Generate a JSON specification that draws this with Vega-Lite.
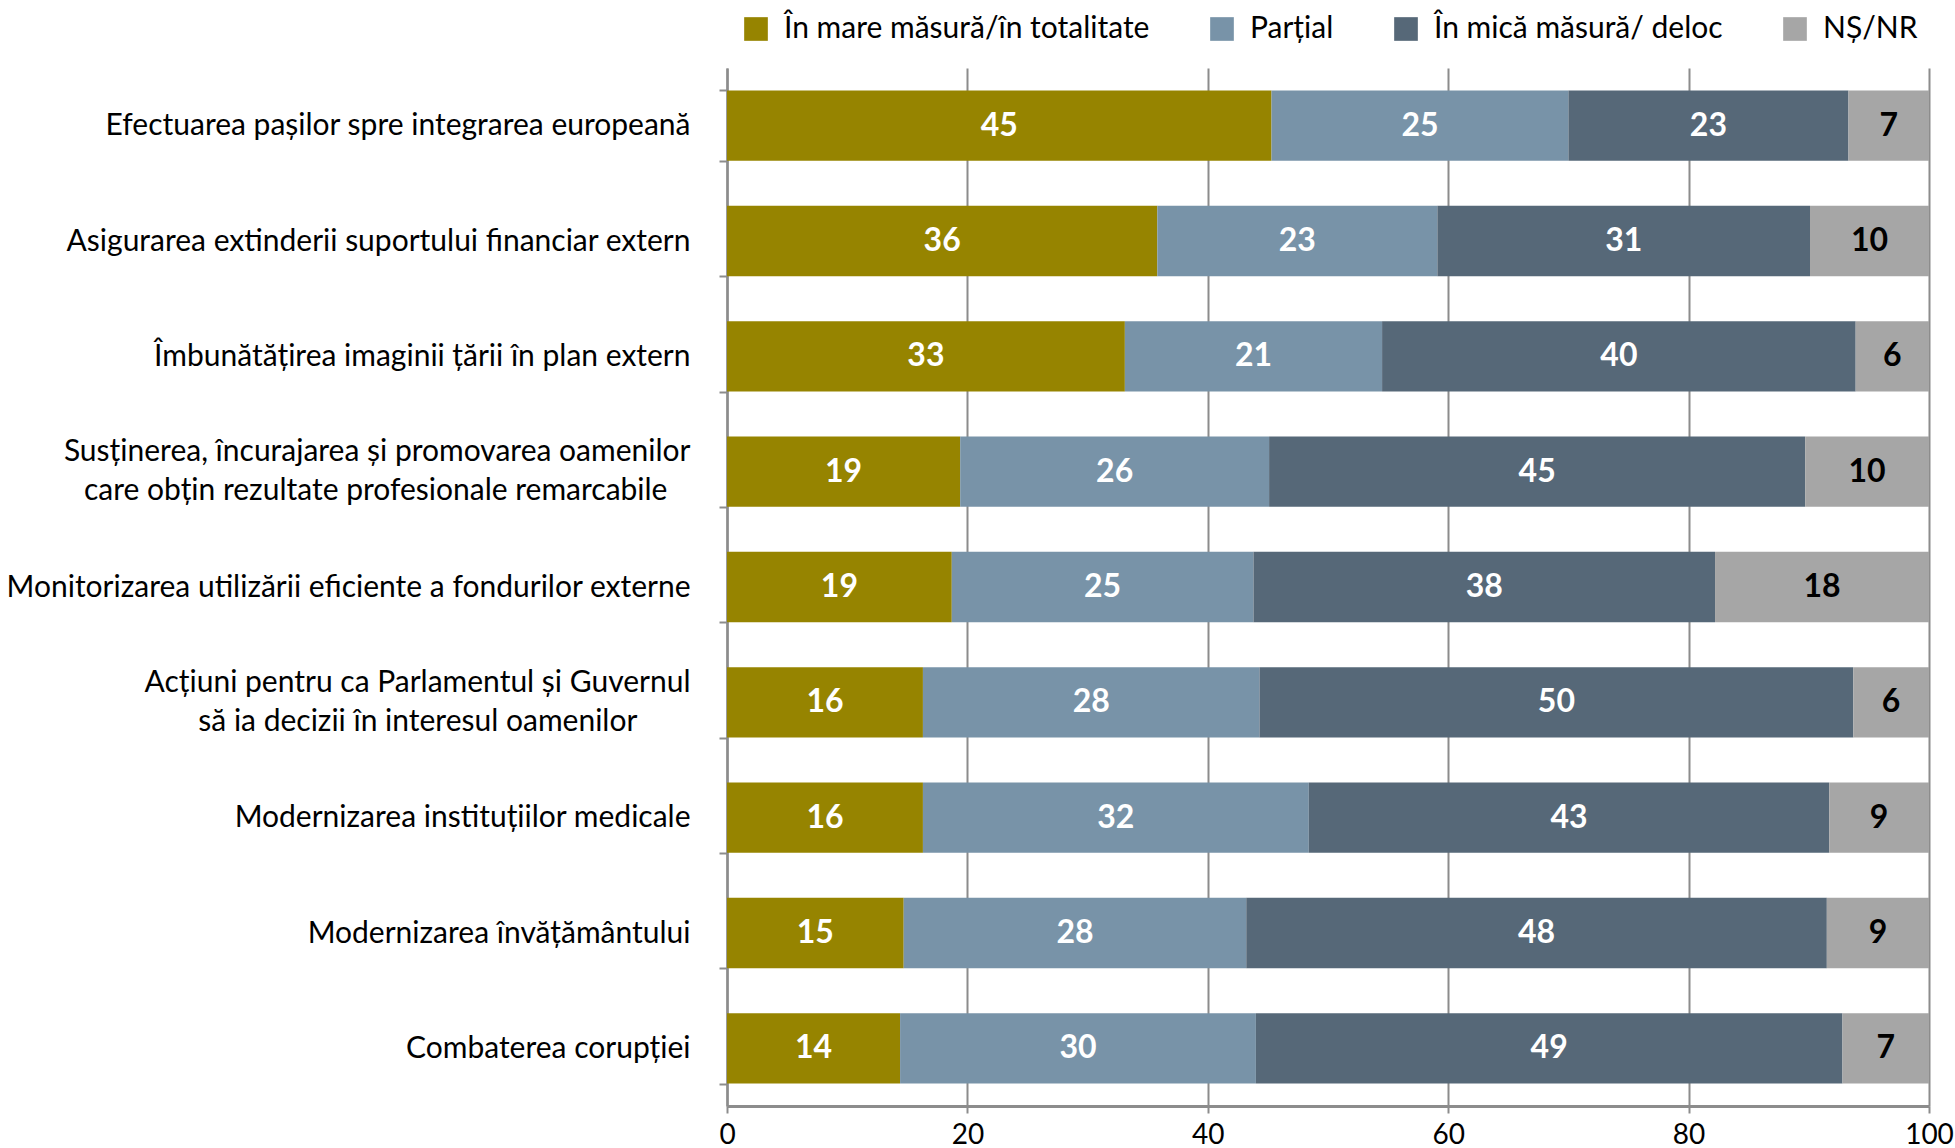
{
  "$schema": "https://vega.github.io/schema/vega-lite/v6.json",
  "width": 1202,
  "height": 1038,
  "autosize": {"type": "none"},
  "padding": {"left": 727, "top": 68, "right": 26, "bottom": 42},
  "background": "white",
  "config": {"view": {"stroke": null}, "font": "Lato"},
  "data": {
    "values": [
      {"cat": "Efectuarea pașilor spre integrarea europeană", "series": "În mare măsură/în totalitate", "value": 45.3, "lab": 45},
      {"cat": "Efectuarea pașilor spre integrarea europeană", "series": "Parțial", "value": 24.7, "lab": 25},
      {"cat": "Efectuarea pașilor spre integrarea europeană", "series": "În mică măsură/ deloc", "value": 23.3, "lab": 23},
      {"cat": "Efectuarea pașilor spre integrarea europeană", "series": "NȘ/NR", "value": 6.7, "lab": 7},
      {"cat": "Asigurarea extinderii suportului financiar extern", "series": "În mare măsură/în totalitate", "value": 35.8, "lab": 36},
      {"cat": "Asigurarea extinderii suportului financiar extern", "series": "Parțial", "value": 23.3, "lab": 23},
      {"cat": "Asigurarea extinderii suportului financiar extern", "series": "În mică măsură/ deloc", "value": 31.0, "lab": 31},
      {"cat": "Asigurarea extinderii suportului financiar extern", "series": "NȘ/NR", "value": 9.9, "lab": 10},
      {"cat": "Îmbunătățirea imaginii țării în plan extern", "series": "În mare măsură/în totalitate", "value": 33.1, "lab": 33},
      {"cat": "Îmbunătățirea imaginii țării în plan extern", "series": "Parțial", "value": 21.4, "lab": 21},
      {"cat": "Îmbunătățirea imaginii țării în plan extern", "series": "În mică măsură/ deloc", "value": 39.4, "lab": 40},
      {"cat": "Îmbunătățirea imaginii țării în plan extern", "series": "NȘ/NR", "value": 6.1, "lab": 6},
      {"cat": "Susținerea, încurajarea și promovarea oamenilor|care obțin rezultate profesionale remarcabile", "series": "În mare măsură/în totalitate", "value": 19.4, "lab": 19},
      {"cat": "Susținerea, încurajarea și promovarea oamenilor|care obțin rezultate profesionale remarcabile", "series": "Parțial", "value": 25.7, "lab": 26},
      {"cat": "Susținerea, încurajarea și promovarea oamenilor|care obțin rezultate profesionale remarcabile", "series": "În mică măsură/ deloc", "value": 44.6, "lab": 45},
      {"cat": "Susținerea, încurajarea și promovarea oamenilor|care obțin rezultate profesionale remarcabile", "series": "NȘ/NR", "value": 10.3, "lab": 10},
      {"cat": "Monitorizarea utilizării eficiente a fondurilor externe", "series": "În mare măsură/în totalitate", "value": 18.7, "lab": 19},
      {"cat": "Monitorizarea utilizării eficiente a fondurilor externe", "series": "Parțial", "value": 25.1, "lab": 25},
      {"cat": "Monitorizarea utilizării eficiente a fondurilor externe", "series": "În mică măsură/ deloc", "value": 38.4, "lab": 38},
      {"cat": "Monitorizarea utilizării eficiente a fondurilor externe", "series": "NȘ/NR", "value": 17.8, "lab": 18},
      {"cat": "Acțiuni pentru ca Parlamentul și Guvernul|să ia decizii în interesul oamenilor", "series": "În mare măsură/în totalitate", "value": 16.3, "lab": 16},
      {"cat": "Acțiuni pentru ca Parlamentul și Guvernul|să ia decizii în interesul oamenilor", "series": "Parțial", "value": 28.0, "lab": 28},
      {"cat": "Acțiuni pentru ca Parlamentul și Guvernul|să ia decizii în interesul oamenilor", "series": "În mică măsură/ deloc", "value": 49.4, "lab": 50},
      {"cat": "Acțiuni pentru ca Parlamentul și Guvernul|să ia decizii în interesul oamenilor", "series": "NȘ/NR", "value": 6.3, "lab": 6},
      {"cat": "Modernizarea instituțiilor medicale", "series": "În mare măsură/în totalitate", "value": 16.3, "lab": 16},
      {"cat": "Modernizarea instituțiilor medicale", "series": "Parțial", "value": 32.1, "lab": 32},
      {"cat": "Modernizarea instituțiilor medicale", "series": "În mică măsură/ deloc", "value": 43.3, "lab": 43},
      {"cat": "Modernizarea instituțiilor medicale", "series": "NȘ/NR", "value": 8.3, "lab": 9},
      {"cat": "Modernizarea învățământului", "series": "În mare măsură/în totalitate", "value": 14.7, "lab": 15},
      {"cat": "Modernizarea învățământului", "series": "Parțial", "value": 28.5, "lab": 28},
      {"cat": "Modernizarea învățământului", "series": "În mică măsură/ deloc", "value": 48.3, "lab": 48},
      {"cat": "Modernizarea învățământului", "series": "NȘ/NR", "value": 8.5, "lab": 9},
      {"cat": "Combaterea corupției", "series": "În mare măsură/în totalitate", "value": 14.4, "lab": 14},
      {"cat": "Combaterea corupției", "series": "Parțial", "value": 29.6, "lab": 30},
      {"cat": "Combaterea corupției", "series": "În mică măsură/ deloc", "value": 48.8, "lab": 49},
      {"cat": "Combaterea corupției", "series": "NȘ/NR", "value": 7.2, "lab": 7}
    ]
  },
  "transform": [
    {"calculate": "indexof(['În mare măsură/în totalitate','Parțial','În mică măsură/ deloc','NȘ/NR'], datum.series)", "as": "ord"},
    {"stack": "value", "groupby": ["cat"], "sort": [{"field": "ord", "order": "ascending"}], "as": ["v0", "v1"]},
    {"calculate": "(datum.v0 + datum.v1) / 2", "as": "mid"}
  ],
  "encoding": {
    "y": {
      "field": "cat",
      "type": "nominal",
      "sort": null,
      "scale": {"paddingInner": 0.39, "paddingOuter": 0.195},
      "axis": {
        "title": null,
        "labelExpr": "test(/[|]/, datum.label + '') ? [split(datum.label, '|')[0], split(datum.label, '|')[1] + (test(/Sus/, datum.label + '') ? '\u00a0\u00a0\u00a0\u200b' : '\u00a0\u00a0\u00a0\u00a0\u00a0\u00a0\u00a0\u200b')] : datum.label",
        "labelFont": "Lato",
        "labelFontSize": 30,
        "labelColor": "#000000",
        "labelLimit": 900,
        "labelPadding": 29,
        "labelBaseline": {"condition": {"test": "test(/[|]/, datum.value + '')", "value": "line-bottom"}, "value": "middle"},
        "labelLineHeight": 39,
        "domainColor": "#8c8c8c",
        "domainWidth": 2.5,
        "ticks": true,
        "tickBand": "extent",
        "tickSize": 8,
        "tickColor": "#8c8c8c",
        "tickWidth": 2,
        "grid": false
      }
    }
  },
  "layer": [
    {
      "mark": {"type": "bar"},
      "encoding": {
        "x": {
          "field": "v0",
          "type": "quantitative",
          "scale": {"domain": [0, 100], "nice": false},
          "axis": {
            "title": null,
            "values": [0, 20, 40, 60, 80, 100],
            "grid": true,
            "gridColor": "#8c8c8c",
            "gridWidth": 2,
            "domainColor": "#8c8c8c",
            "domainWidth": 3,
            "tickSize": 7,
            "tickColor": "#8c8c8c",
            "tickWidth": 2,
            "labelFont": "Lato",
            "labelFontSize": 28,
            "labelColor": "#000000",
            "labelPadding": 8,
            "labelFlush": false
          }
        },
        "x2": {"field": "v1"},
        "color": {
          "field": "series",
          "type": "nominal",
          "scale": {
            "domain": ["În mare măsură/în totalitate", "Parțial", "În mică măsură/ deloc", "NȘ/NR"],
            "range": ["#968400", "#7893a8", "#566878", "#a6a6a6"]
          },
          "legend": {
            "title": null,
            "orient": "none",
            "legendX": 14,
            "legendY": -54,
            "direction": "horizontal",
            "symbolType": "square",
            "symbolSize": 560,
            "symbolStrokeWidth": 0,
            "labelFont": "Lato",
            "labelFontSize": 30,
            "labelColor": "#000000",
            "labelOffset": 13,
            "columnPadding": 57,
            "labelLimit": 600
          }
        }
      }
    },
    {
      "mark": {"type": "text", "font": "Lato", "fontWeight": "bold", "fontSize": 32, "baseline": "middle", "align": "center"},
      "encoding": {
        "x": {"field": "mid", "type": "quantitative"},
        "text": {"field": "lab", "type": "quantitative"},
        "color": {
          "condition": {"test": "datum.series === 'NȘ/NR'", "value": "#000000"},
          "value": "#ffffff"
        }
      }
    }
  ]
}
